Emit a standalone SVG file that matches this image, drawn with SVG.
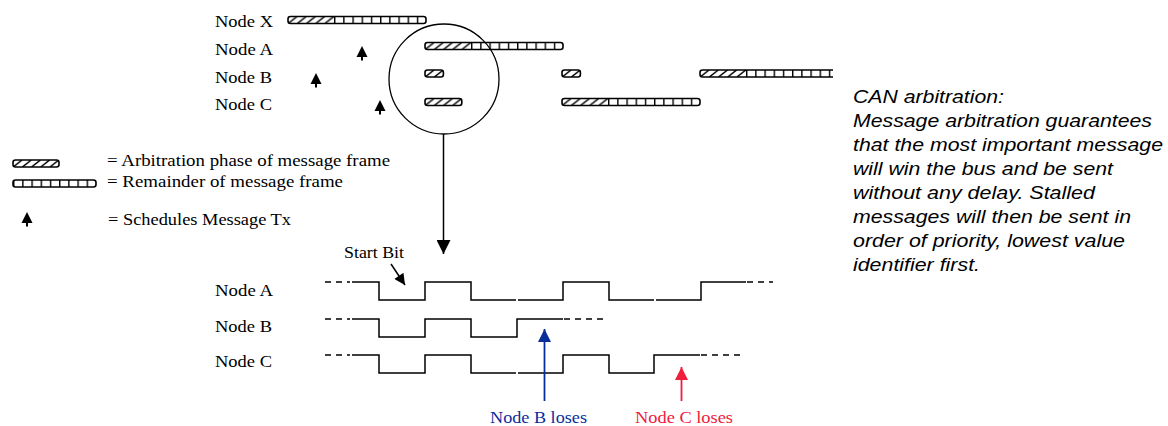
<svg xmlns="http://www.w3.org/2000/svg" xmlns:xlink="http://www.w3.org/1999/xlink" width="1168" height="426" viewBox="0 0 1168 426">
<style>
.serif{font-family:"Liberation Serif","Times New Roman",serif;font-size:17px;fill:#000}
.note{font-family:"Liberation Sans",Arial,sans-serif;font-size:19px;font-style:italic;fill:#000}
.bar{fill:none;stroke:#000;stroke-width:1.6}
.wave{fill:none;stroke:#000;stroke-width:1.5}
.dash{fill:none;stroke:#000;stroke-width:1.5;stroke-dasharray:6 5}
.conn{fill:none;stroke:#000;stroke-width:1.5}
</style>
<defs>
<pattern id="pHatch" patternUnits="userSpaceOnUse" width="9.2" height="7"><path d="M-0.5 7.5 L9.7 -0.5" stroke="#000" stroke-width="1.5"/></pattern>
<pattern id="pCell" patternUnits="userSpaceOnUse" width="9.2" height="7"><path d="M0.7 0 V7" stroke="#000" stroke-width="1.4"/></pattern>
<g id="bar15"><rect width="46" height="7" fill="url(#pHatch)"/><rect x="46" width="92" height="7" fill="url(#pCell)"/><rect width="138" height="7" rx="2.5" class="bar"/></g>
<g id="bar2"><rect width="18.4" height="7" fill="url(#pHatch)"/><rect width="18.4" height="7" rx="2.5" class="bar"/></g>
<g id="bar4"><rect width="36.8" height="7" fill="url(#pHatch)"/><rect width="36.8" height="7" rx="2.5" class="bar"/></g>
<g id="bar5"><rect width="46" height="7" fill="url(#pHatch)"/><rect width="46" height="7" rx="2.5" class="bar"/></g>
<g id="bar9p"><rect width="83" height="7" fill="url(#pCell)"/><rect width="83" height="7" rx="2.5" class="bar"/></g>
<g id="tx"><path d="M0 0 L5.5 11 L-5.5 11 Z" fill="#000"/><rect x="-1" y="10.5" width="2" height="4" fill="#000"/></g>
<marker id="ahBlack" markerUnits="userSpaceOnUse" viewBox="0 0 14 14" refX="14" refY="7" markerWidth="14" markerHeight="14" orient="auto"><path d="M0 0 L14 7 L0 14 Z" fill="#000"/></marker>
<marker id="ahSmall" markerUnits="userSpaceOnUse" viewBox="0 0 14 14" refX="14" refY="7" markerWidth="12" markerHeight="11" orient="auto"><path d="M0 0 L14 7 L0 14 Z" fill="#000"/></marker>
<marker id="ahBlue" markerUnits="userSpaceOnUse" viewBox="0 0 14 14" refX="14" refY="7" markerWidth="13" markerHeight="13" orient="auto"><path d="M0 0 L14 7 L0 14 Z" fill="#0a2d9c"/></marker>
<marker id="ahRed" markerUnits="userSpaceOnUse" viewBox="0 0 14 14" refX="14" refY="7" markerWidth="13" markerHeight="13" orient="auto"><path d="M0 0 L14 7 L0 14 Z" fill="#f0203c"/></marker>
</defs>
<rect width="1168" height="426" fill="#fff"/>

<g id="node-x">
<text class="serif" x="215" y="27" textLength="58" lengthAdjust="spacingAndGlyphs">Node X</text>
<use xlink:href="#bar15" x="288" y="16.5"/>
</g>
<g id="node-a">
<text class="serif" x="215" y="54.5" textLength="58" lengthAdjust="spacingAndGlyphs">Node A</text>
<use xlink:href="#tx" x="362" y="46"/>
<use xlink:href="#bar15" x="425" y="42.5"/>
</g>
<g id="node-b">
<text class="serif" x="215" y="82.5" textLength="57" lengthAdjust="spacingAndGlyphs">Node B</text>
<use xlink:href="#tx" x="316" y="73"/>
<use xlink:href="#bar2" x="425" y="70"/>
<use xlink:href="#bar2" x="562" y="70"/>
<g transform="translate(700,70)"><rect width="46" height="7" fill="url(#pHatch)"/><rect x="46" width="87" height="7" fill="url(#pCell)"/><path d="M133 0 H2.5 Q0 0 0 2.5 V4.5 Q0 7 2.5 7 H133" class="bar"/></g>
</g>
<g id="node-c">
<text class="serif" x="215" y="110" textLength="57" lengthAdjust="spacingAndGlyphs">Node C</text>
<use xlink:href="#tx" x="380" y="100"/>
<use xlink:href="#bar4" x="425" y="98.5"/>
<use xlink:href="#bar15" x="562" y="98.5"/>
</g>
<g id="highlight">
<circle cx="444" cy="79" r="55" fill="none" stroke="#000" stroke-width="1.3"/>
</g>

<g id="legend">
<use xlink:href="#bar5" x="13" y="160"/>
<text class="serif" x="107" y="166" textLength="283" lengthAdjust="spacingAndGlyphs">= Arbitration phase of message frame</text>
<use xlink:href="#bar9p" x="13" y="180"/>
<text class="serif" x="107" y="187" textLength="236" lengthAdjust="spacingAndGlyphs">= Remainder of message frame</text>
<use xlink:href="#tx" x="27" y="212"/>
<text class="serif" x="108" y="225" textLength="183" lengthAdjust="spacingAndGlyphs">= Schedules Message Tx</text>
</g>

<g id="wave-a">
<text class="serif" x="215" y="296" textLength="58" lengthAdjust="spacingAndGlyphs">Node A</text>
<path class="dash" d="M325 282 H350"/>
<path class="wave" d="M352 282 H379 V300 H425 V282 H471 V300 H516 M518 300 H563 V282 H609 V300 H654 M656 300 H701 V282 H746"/>
<path class="dash" d="M747 282 H773"/>
</g>
<g id="wave-b">
<text class="serif" x="215" y="332" textLength="57" lengthAdjust="spacingAndGlyphs">Node B</text>
<path class="dash" d="M325 319 H350"/>
<path class="wave" d="M352 319 H379 V337 H425 V319 H471 V337 H517 V319 H563"/>
<path class="dash" d="M564 319 H608"/>
</g>
<g id="wave-c">
<text class="serif" x="215" y="367" textLength="57" lengthAdjust="spacingAndGlyphs">Node C</text>
<path class="dash" d="M325 355 H350"/>
<path class="wave" d="M352 355 H379 V373 H425 V355 H471 V373 H516 M518 373 H563 V355 H609 V373 H654 V355 H700"/>
<path class="dash" d="M701 355 H744"/>
</g>

<g id="start-bit">
<text class="serif" x="344" y="258" textLength="60" lengthAdjust="spacingAndGlyphs">Start Bit</text>
</g>
<g id="loses-labels">
<text class="serif" x="490" y="423" textLength="97" lengthAdjust="spacingAndGlyphs" style="fill:#0a2d9c">Node B loses</text>
<text class="serif" x="635" y="423" textLength="98" lengthAdjust="spacingAndGlyphs" style="fill:#f0203c">Node C loses</text>
</g>

<g id="connectors">
<path class="conn" d="M443.5 134 V254" marker-end="url(#ahBlack)"/>
<path class="conn" d="M391 264 L405 285" marker-end="url(#ahSmall)"/>
<path d="M544.5 401 V329" fill="none" stroke="#0a2d9c" stroke-width="1.8" marker-end="url(#ahBlue)"/>
<path d="M681.5 401 V367" fill="none" stroke="#f0203c" stroke-width="1.8" marker-end="url(#ahRed)"/>
</g>

<g id="annotation">
<text class="note" x="853" y="103" textLength="151" lengthAdjust="spacingAndGlyphs">CAN arbitration:</text>
<text class="note" x="853" y="127" textLength="299" lengthAdjust="spacingAndGlyphs">Message arbitration guarantees</text>
<text class="note" x="853" y="151" textLength="310" lengthAdjust="spacingAndGlyphs">that the most important message</text>
<text class="note" x="853" y="175" textLength="260" lengthAdjust="spacingAndGlyphs">will win the bus and be sent</text>
<text class="note" x="853" y="199" textLength="242" lengthAdjust="spacingAndGlyphs">without any delay. Stalled</text>
<text class="note" x="853" y="223" textLength="278" lengthAdjust="spacingAndGlyphs">messages will then be sent in</text>
<text class="note" x="853" y="247" textLength="272" lengthAdjust="spacingAndGlyphs">order of priority, lowest value</text>
<text class="note" x="853" y="271" textLength="127" lengthAdjust="spacingAndGlyphs">identifier first.</text>
</g>
</svg>
